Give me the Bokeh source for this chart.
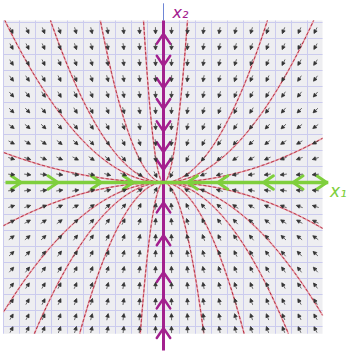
import numpy as np
from bokeh.plotting import figure
from bokeh.models import Range1d, ColumnDataSource, Arrow, NormalHead
from bokeh.embed import file_html
from bokeh.resources import INLINE
from bokeh.core.properties import value

# ---- data -------------------------------------------------------------
# linear system  x1' = eig1 * x1 ,  x2' = eig2 * x2  (stable node)
eig1 = -1.0
eig2 = -2.0

# grid extent (data units) and arrow sample positions (cell centres)
grid_x = [-10.0, 9.94]
grid_y = [-9.45, 10.125]
arrow_cols = [-9.5, -8.5, -7.5, -6.5, -5.5, -4.5, -3.5, -2.5, -1.5, -0.5,
              0.5, 1.5, 2.5, 3.5, 4.5, 5.5, 6.5, 7.5, 8.5, 9.5]
arrow_rows = [-9.2, -8.4, -7.45, -6.45, -5.45, -4.45, -3.45, -2.45, -1.5, -0.5,
              0.5, 1.5, 2.5, 3.5, 4.5, 5.5, 6.5, 7.5, 8.5, 9.5]

# trajectories x2 = C * |x1|^(eig2/eig1), drawn on one side of the x2 axis
traj_side = [-1, -1, -1, -1, -1,
             1, 1, 1, 1,
             -1, -1, -1, -1, -1,
             1, 1, 1, 1, 1]
traj_c = [0.0188, 0.103, 0.203, 0.65, 6.5,
          4.5, 0.24, 0.115, 0.028,
          -0.027, -0.081, -0.145, -0.344, -4.5,
          -1.49, -0.372, -0.155, -0.084, -0.029]

# hand-drawn direction marks on the eigen-axes
x2_down_marks = [7.3, 5.9, 4.6, 3.2, 1.9, 0.8]
x2_up_marks = [-1.25, -3.3, -5.6, -7.25, -9.1]
x2_top_head = [9.3]
x1_right_marks = [-8.9, -6.6, -3.9, -1.9]
x1_left_marks = [1.5, 3.4, 6.25, 8.1]
x1_end_head = [10.2]

PURPLE = "#a3208e"
GREEN = "#7fcf3d"

# ---- figure -----------------------------------------------------------
W, H = 347, 351
p = figure(width=W, height=H, output_backend="svg", toolbar_location=None,
           x_range=Range1d(-163 / 16, 184 / 16), y_range=Range1d(-169 / 16, 182 / 16),
           min_border=0, x_axis_type=None, y_axis_type=None)
p.grid.visible = False
p.outline_line_color = None
p.background_fill_color = "white"
p.border_fill_color = "white"

# paper background + grid
p.quad(left=[grid_x[0]], right=[grid_x[1]], bottom=[grid_y[0]], top=[grid_y[1]],
       fill_color="#eeeef1", line_color=None)
vx = [v for v in range(-10, 10)]
p.segment(x0=vx, y0=[grid_y[0]] * len(vx), x1=vx, y1=[grid_y[1]] * len(vx),
          line_color="#cbcbee", line_width=1)
hy = [v for v in range(-9, 11)]
p.segment(x0=[grid_x[0]] * len(hy), y0=hy, x1=[grid_x[1]] * len(hy), y1=hy,
          line_color="#cbcbee", line_width=1)

# trajectories
k = eig2 / eig1
for side, c in zip(traj_side, traj_c):
    lim = grid_y[1] if c > 0 else -grid_y[0]
    xe = grid_x[0] if side < 0 else grid_x[1]
    xmax = min(abs(xe), (lim / abs(c)) ** (1 / k))
    xs = np.linspace(0, xmax, 200) * side
    ys = c * np.abs(xs) ** k
    p.line(xs, ys, line_color="#eaa3ad", line_width=1.6)
    p.line(xs, ys, line_color="#b0263a", line_width=1.0, line_dash="3 2")

# direction field
X, Y = np.meshgrid(arrow_cols, arrow_rows)
U = eig1 * X
V = eig2 * Y
N = np.hypot(U, V)
U, V = U / N, V / N
L = 0.42
src = ColumnDataSource(dict(x0=(X - U * L / 2).ravel(), y0=(Y - V * L / 2).ravel(),
                            x1=(X + U * L / 2).ravel(), y1=(Y + V * L / 2).ravel()))
p.add_layout(Arrow(end=NormalHead(size=3.5, fill_color="#333333", line_color="#333333",
                                  line_width=0.8),
                   x_start="x0", y_start="y0", x_end="x1", y_end="y1",
                   source=src, line_color="#555555", line_width=0.9))

# original thin axis stub above grid
p.line([0, 0], [grid_y[1], 11.2], line_color="#6f86d6", line_width=1)

# purple x2 eigen-axis
p.line([0, 0], [grid_y[1], -10.5], line_color=PURPLE, line_width=3)
dx, dy = 0.42, 0.62
xs_m, ys_m = [], []
for y in x2_down_marks:
    xs_m.append([-dx, 0, dx]); ys_m.append([y + dy, y, y + dy])
for y in x2_up_marks + x2_top_head:
    xs_m.append([-dx, 0, dx]); ys_m.append([y - dy, y, y - dy])
p.multi_line(xs_m, ys_m, line_color=PURPLE, line_width=2.5, line_join="round", line_cap="round")

# green x1 eigen-axis
p.line([-9.875, 10.3], [0, 0], line_color=GREEN, line_width=3.5)
xs_g, ys_g = [], []
for x in x1_right_marks + x1_end_head:
    xs_g.append([x - dy, x, x - dy]); ys_g.append([dx, 0, -dx])
for x in x1_left_marks:
    xs_g.append([x + dy, x, x + dy]); ys_g.append([dx, 0, -dx])
p.multi_line(xs_g, ys_g, line_color=GREEN, line_width=3, line_join="round", line_cap="round")

# axis labels
p.text(x=[1.06], y=[10.6], text=["x₂"], text_color=PURPLE, text_font=value("DejaVu Sans"),
       text_font_style="italic", text_font_size="16px", text_align="center",
       text_baseline="middle")
p.text(x=[10.4], y=[-0.5], text=["x₁"], text_color=GREEN, text_font=value("DejaVu Sans"),
       text_font_style="italic", text_font_size="17px", text_align="left",
       text_baseline="middle")

open("out.html", "w").write(file_html(p, INLINE))
